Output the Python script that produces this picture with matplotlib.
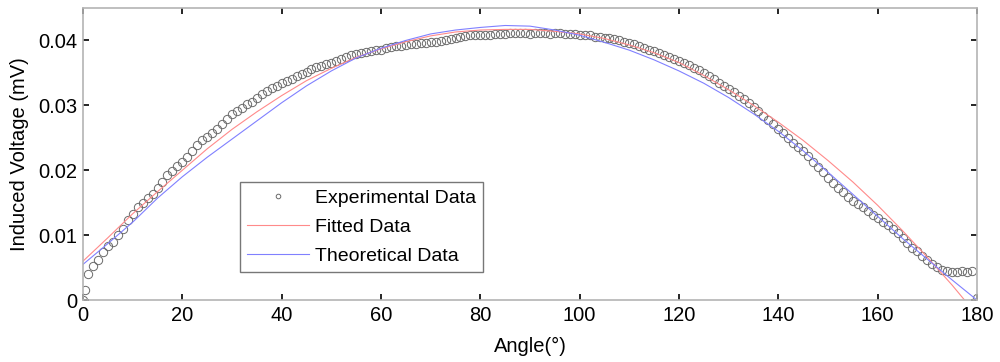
import numpy as np
import matplotlib
matplotlib.use("Agg")
import matplotlib.pyplot as plt

plt.rcParams['font.family'] = ['Liberation Sans', 'DejaVu Sans']

# Experimental data (angle in degrees, induced voltage in mV)
exp_angle = [0, 0.4] + list(range(1, 181))
exp_volt = [
    0.0000, 0.0015,
    0.0040, 0.0052, 0.0062, 0.0074, 0.0083, 0.0090, 0.0100, 0.0110, 0.0123, 0.0133,
    0.0143, 0.0150, 0.0157, 0.0164, 0.0173, 0.0182, 0.0192, 0.0199, 0.0206, 0.0213,
    0.0221, 0.0230, 0.0239, 0.0246, 0.0252, 0.0258, 0.0264, 0.0271, 0.0279, 0.0286,
    0.0291, 0.0296, 0.0302, 0.0305, 0.0311, 0.0317, 0.0322, 0.0326, 0.0330, 0.0334,
    0.0337, 0.0341, 0.0345, 0.0349, 0.0352, 0.0356, 0.0359, 0.0361, 0.0363, 0.0365,
    0.0368, 0.0371, 0.0375, 0.0377, 0.0379, 0.0381, 0.0382, 0.0384, 0.0385, 0.0386,
    0.0388, 0.0390, 0.0391, 0.0392, 0.0393, 0.0394, 0.0395, 0.0396, 0.0396, 0.0397,
    0.0398, 0.0399, 0.0400, 0.0402, 0.0404, 0.0406, 0.0407, 0.0408, 0.0408, 0.0409,
    0.0409, 0.0409, 0.0410, 0.0410, 0.0410, 0.0411, 0.0411, 0.0412, 0.0411, 0.0410,
    0.0412, 0.0411, 0.0411, 0.0410, 0.0412, 0.0411, 0.0410, 0.0410, 0.0410, 0.0409,
    0.0408, 0.0408, 0.0406, 0.0405, 0.0404, 0.0403, 0.0402, 0.0400, 0.0398, 0.0396,
    0.0394, 0.0391, 0.0389, 0.0386, 0.0383, 0.0380, 0.0377, 0.0374, 0.0371, 0.0368,
    0.0365, 0.0362, 0.0358, 0.0354, 0.0350, 0.0345, 0.0340, 0.0335, 0.0330, 0.0325,
    0.0320, 0.0315, 0.0309, 0.0303, 0.0297, 0.0291, 0.0284, 0.0278, 0.0271, 0.0264,
    0.0257, 0.0250, 0.0242, 0.0236, 0.0229, 0.0222, 0.0212, 0.0205, 0.0197, 0.0188,
    0.0180, 0.0173, 0.0166, 0.0159, 0.0153, 0.0148, 0.0143, 0.0137, 0.0131, 0.0126,
    0.0120, 0.0115, 0.0109, 0.0103, 0.0096, 0.0088, 0.0081, 0.0075, 0.0068, 0.0062,
    0.0056, 0.0051, 0.0047, 0.0045, 0.0043, 0.0044, 0.0045, 0.0044, 0.0045, 0.0003,
]

# Fitted curve
fit_angle = [0, 5, 10, 15, 20, 25, 30, 35, 40, 45, 50, 55, 60, 65, 70, 75, 80, 85, 90,
             95, 100, 105, 110, 115, 120, 125, 130, 135, 140, 145, 150, 155, 160, 165,
             170, 175, 177.5]
fit_volt = [0.0060, 0.0096, 0.0133, 0.0167, 0.0200, 0.0233, 0.0263, 0.0290, 0.0315,
            0.0338, 0.0357, 0.0374, 0.0387, 0.0398, 0.0407, 0.0413, 0.0416, 0.0417,
            0.0417, 0.0414, 0.0410, 0.0403, 0.0393, 0.0381, 0.0366, 0.0346, 0.0324,
            0.0300, 0.0274, 0.0246, 0.0215, 0.0182, 0.0146, 0.0107, 0.0066, 0.0023,
            0.0000]

# Theoretical curve
theo_angle = [0, 5, 10, 15, 20, 25, 30, 35, 40, 45, 50, 55, 60, 65, 70, 75, 80, 85, 90,
              95, 100, 105, 110, 115, 120, 125, 130, 135, 140, 145, 150, 155, 160, 165,
              170, 175, 180]
theo_volt = [0.0055, 0.0087, 0.0120, 0.0157, 0.0190, 0.0220, 0.0248, 0.0276, 0.0304,
             0.0330, 0.0353, 0.0373, 0.0388, 0.0400, 0.0410, 0.0416, 0.0420, 0.0423,
             0.0422, 0.0416, 0.0408, 0.0397, 0.0385, 0.0370, 0.0353, 0.0334, 0.0312,
             0.0287, 0.0260, 0.0230, 0.0197, 0.0163, 0.0129, 0.0095, 0.0063, 0.0031,
             0.0000]

x_ticks = [0, 20, 40, 60, 80, 100, 120, 140, 160, 180]
y_ticks = [0, 0.01, 0.02, 0.03, 0.04]
y_tick_labels = ['0', '0.01', '0.02', '0.03', '0.04']

fig = plt.figure(figsize=(10, 3.62), dpi=100)
ax = fig.add_axes([0.083, 0.171, 0.894, 0.807])

ax.plot(exp_angle, exp_volt, linestyle='none', marker='o', markersize=6.0,
        markerfacecolor='none', markeredgecolor='#6a6a6a', markeredgewidth=0.7,
        label='Experimental Data')
ax.plot(fit_angle, fit_volt, color='#ff8a8a', linewidth=0.8, label='Fitted Data')
ax.plot(theo_angle, theo_volt, color='#8080ff', linewidth=0.8, label='Theoretical Data')

ax.set_xlim(0, 180)
ax.set_ylim(0, 0.045)
ax.set_xticks(x_ticks)
ax.set_xticklabels([str(t) for t in x_ticks])
ax.set_yticks(y_ticks)
ax.set_yticklabels(y_tick_labels)

for s in ax.spines.values():
    s.set_color('#b4b4b4')
    s.set_linewidth(1.2)
ax.tick_params(direction='in', length=4, width=1.2, color='black', labelsize=14.5,
               top=True, right=True, pad=4)

ax.set_xlabel('Angle(°)', fontsize=14.5, labelpad=9)
ax.set_ylabel('Induced Voltage (mV)', fontsize=14.5, labelpad=7)

leg = ax.legend(loc='lower left', bbox_to_anchor=(0.176, 0.096), fontsize=14,
                frameon=True, fancybox=False, markerscale=0.55, handlelength=3.2,
                borderpad=0.35, labelspacing=0.6, handletextpad=0.3,
                borderaxespad=0)
leg.get_frame().set_edgecolor('#555555')
leg.get_frame().set_linewidth(1.0)

fig.savefig('out.png', dpi=100)
